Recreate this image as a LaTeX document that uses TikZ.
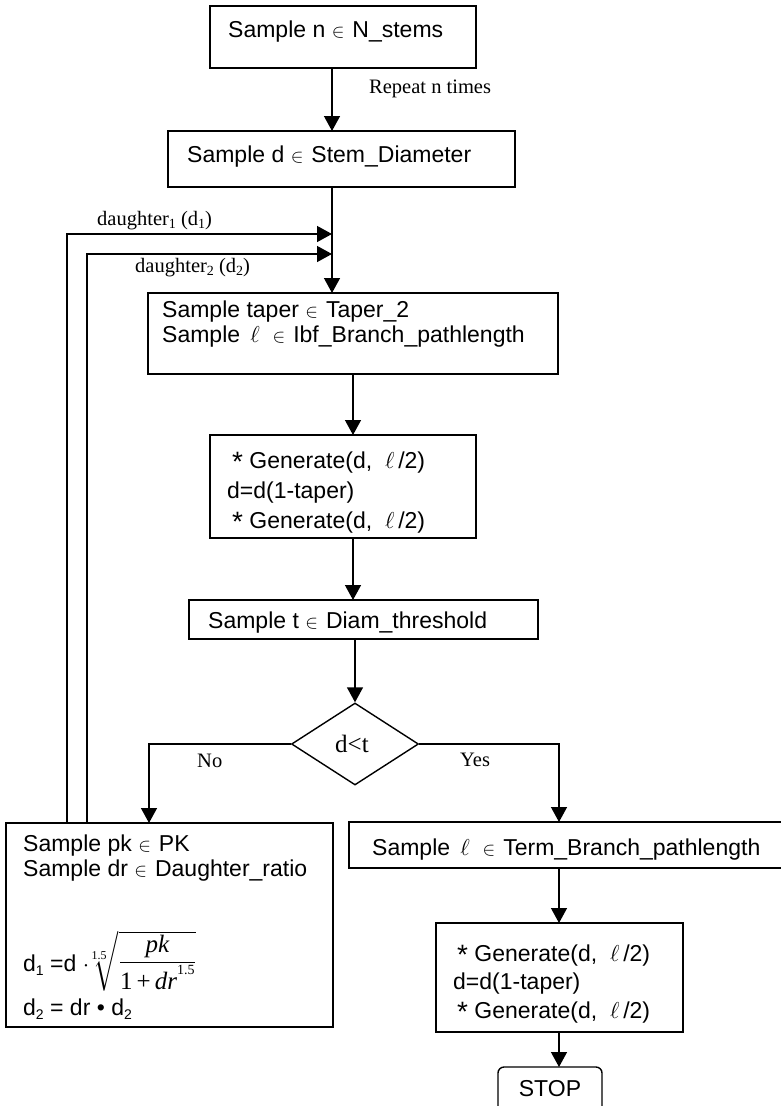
\RequirePackage{fix-cm}
\documentclass[tikz,border=0pt]{standalone}
\usepackage{amsmath}
\usepackage{fontspec}
\setsansfont{Liberation Sans}
\newfontfamily\tms{Liberation Serif}
\usetikzlibrary{arrows.meta,shapes.geometric}
\newcommand\sbs[1]{\raisebox{-0.35ex}{\fontsize{14}{14}\selectfont #1}}
\newcommand\el{{\fontsize{19}{19}\selectfont$\in$}\hspace{8pt}}
\newcommand\myast{\raisebox{-3pt}{\fontsize{28}{28}\selectfont *}}
\begin{document}
\begin{tikzpicture}[x=1pt,y=-1pt,
 box/.style={draw,line width=1.4pt,anchor=north west,inner sep=0pt,outer sep=0pt},
 txt/.style={anchor=base west,inner sep=0pt,font=\sffamily\fontsize{23}{27}\selectfont},
 lbl/.style={anchor=base west,inner sep=0pt,font=\tms\fontsize{20.5}{24}\selectfont},
 arr/.style={line width=1.4pt,-{Triangle[length=15pt,width=16pt]}}]
\useasboundingbox (0,0) rectangle (780,1106);
\fill[white] (0,0) rectangle (780,1106);
% boxes
\node[box,minimum width=266pt,minimum height=62pt] (b1) at (210,6) {};
\node[box,minimum width=347pt,minimum height=56pt] (b2) at (168,131) {};
\node[box,minimum width=410pt,minimum height=81pt] (b3) at (148,293) {};
\node[box,minimum width=266pt,minimum height=103pt] (b4) at (210,435) {};
\node[box,minimum width=349pt,minimum height=39pt] (b5) at (189,600) {};
\node[draw,diamond,line width=1.4pt,minimum width=127pt,minimum height=82pt,inner sep=0pt] (dia) at (355,744) {};
\node[box,minimum width=327pt,minimum height=204pt] (pk) at (6,823) {};
\node[box,minimum width=440pt,minimum height=46pt] (term) at (349,822) {};
\node[box,minimum width=247pt,minimum height=109pt] (gen2) at (436,923) {};
\node[box,rounded corners=6pt,minimum width=104pt,minimum height=50pt] (stop) at (498,1067) {};
% connector x/y positions
\coordinate (xa) at (332,0);
\coordinate (xb) at (353,0);
\coordinate (xno) at (149,0);
\coordinate (xyes) at (559,0);
\coordinate (xd1) at (67,0);
\coordinate (xd2) at (87,0);
\coordinate (ya) at (0,234);
\coordinate (yb) at (0,254);
% connectors
\draw[arr] (b1.south -| xa) -- (b2.north -| xa);
\draw[arr] (b2.south -| xa) -- (b3.north -| xa);
\draw[arr] (pk.north -| xd1) -- (xd1 |- ya) -- (xa |- ya);
\draw[arr] (pk.north -| xd2) -- (xd2 |- yb) -- (xa |- yb);
\draw[arr] (b3.south -| xb) -- (b4.north -| xb);
\draw[arr] (b4.south -| xb) -- (b5.north -| xb);
\draw[arr] (b5.south -| dia.north) -- (dia.north);
\draw[arr] (dia.west) -| (pk.north -| xno);
\draw[arr] (dia.east) -| (term.north -| xyes);
\draw[arr] (term.south -| xyes) -- (gen2.north -| xyes);
\draw[arr] (gen2.south -| xyes) -- (stop.north -| xyes);
% box texts
\node[txt] (t1) at (228,37) {Sample n \el N\_stems};
\node[txt] (t2) at (187,162) {Sample d \el Stem\_Diameter};
\node[txt] (t3a) at (162,317) {Sample taper \el Taper\_2};
\node[txt] (t3b) at (162,342) {Sample \,$\ell$\ \ \el Ibf\_Branch\_pathlength};
\node[txt] (t4a) at (232,468) {\myast\ Generate(d,\ \ $\ell$\,/2)};
\node[txt] (t4b) at (227,498) {d=d(1-taper)};
\node[txt] (t4c) at (232,528) {\myast\ Generate(d,\ \ $\ell$\,/2)};
\node[txt] (t5) at (208,628) {Sample t \el Diam\_threshold};
\node[txt] (tpa) at (23,851) {Sample pk \el PK};
\node[txt] (tpb) at (23,876) {Sample dr \el Daughter\_ratio};
\node[txt] (tpc) at (23,971) {d\sbs{1} =d $\cdot\!\raisebox{3pt}{$\sqrt[\mbox{\tms\fontsize{12}{12}\selectfont 1.5}]{\dfrac{\mbox{\tms\itshape\fontsize{25}{25}\selectfont pk}}{\mbox{\tms\fontsize{25}{25}\selectfont 1\,+\,\itshape dr\raisebox{1.3ex}{\upshape\fontsize{14}{14}\selectfont 1.5}}}}$}$};
\node[txt] (tpd) at (23,1015) {d\sbs{2} = dr • d\sbs{2}};
\node[txt] (tt) at (372,855) {Sample \,$\ell$\ \ \el Term\_Branch\_pathlength};
\node[txt] (tga) at (457,961) {\myast\ Generate(d,\ \ $\ell$\,/2)};
\node[txt] (tgb) at (453,989) {d=d(1-taper)};
\node[txt] (tgc) at (457,1018) {\myast\ Generate(d,\ \ $\ell$\,/2)};
\node[txt,anchor=base] (ts) at (550,1096) {STOP};
% labels
\node[lbl] (lr) at (369,93) {Repeat n times};
\node[lbl] (ld1) at (97,225) {daughter\sbs{1} (d\sbs{1})};
\node[lbl] (ld2) at (135,272) {daughter\sbs{2} (d\sbs{2})};
\node[lbl] (lno) at (197,767) {No};
\node[lbl] (lyes) at (460,766) {Yes};
\node[font=\tms\fontsize{25}{29}\selectfont,anchor=base,inner sep=0pt] (ldt) at (352,752) {d<t};
\end{tikzpicture}
\end{document}
